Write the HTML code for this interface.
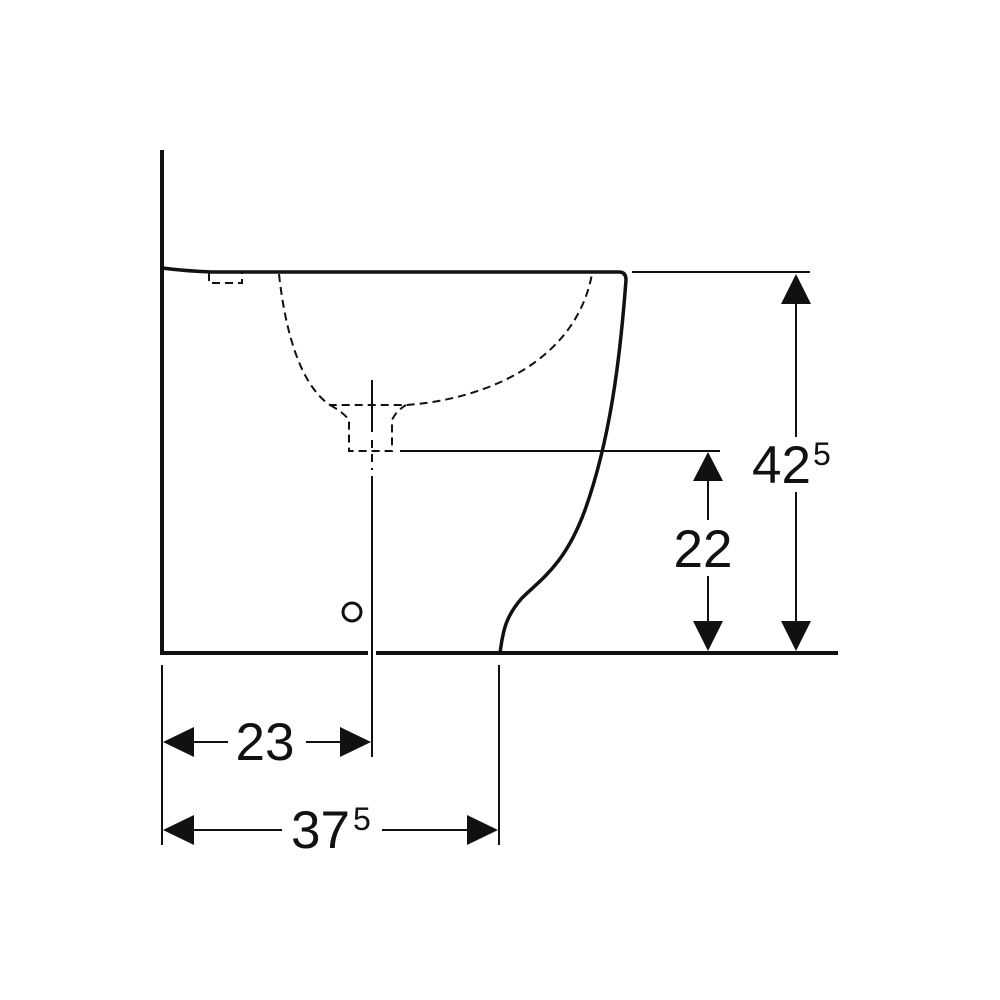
<!DOCTYPE html>
<html><head><style>html,body{margin:0;padding:0;background:#fff}svg{display:block}</style></head><body>
<svg width="1000" height="1000" viewBox="0 0 1000 1000" xmlns="http://www.w3.org/2000/svg">
<g fill="none" stroke="#111" stroke-linecap="butt">
<!-- wall -->
<line x1="162" y1="150" x2="162" y2="655" stroke-width="4"/>
<!-- floor -->
<line x1="160" y1="653" x2="368" y2="653" stroke-width="4"/>
<line x1="376" y1="653" x2="838" y2="653" stroke-width="4"/>
<!-- body outline -->
<path d="M162 268 Q185 271 212 272 L619 272 Q626 272 626 280 C620 360 610 440 585 510 C565 565 540 580 522 598 C506 616 503 630 500 653" stroke-width="3.5"/>
<!-- dashed bowl -->
<g stroke-width="2" stroke-dasharray="8,5">
<path d="M209 273 L209 283 L242 283 L242 273"/>
<path d="M279 274 C285 330 300 385 330 405 L406 405 C480 400 575 365 592 274"/>
<path d="M330 405 Q343 412 349 420 L349 451 L392 451 L392 420 Q396 411 406 405"/>
</g>
<!-- center line -->
<line x1="372" y1="380" x2="372" y2="432" stroke-width="2"/>
<line x1="372" y1="440" x2="372" y2="470" stroke-width="2" stroke-dasharray="8,6"/>
<line x1="372" y1="476" x2="372" y2="757" stroke-width="2"/>
<!-- horizontal refs -->
<line x1="400" y1="451" x2="720" y2="451" stroke-width="2"/>
<line x1="632" y1="272" x2="810" y2="272" stroke-width="2"/>
<!-- extension lines -->
<line x1="162" y1="665" x2="162" y2="845" stroke-width="2"/>
<line x1="499" y1="665" x2="499" y2="845" stroke-width="2"/>
<!-- dim lines -->
<line x1="796" y1="300" x2="796" y2="437" stroke-width="2"/>
<line x1="796" y1="492" x2="796" y2="625" stroke-width="2"/>
<line x1="708" y1="478" x2="708" y2="520" stroke-width="2"/>
<line x1="708" y1="576" x2="708" y2="625" stroke-width="2"/>
<line x1="192" y1="742" x2="228" y2="742" stroke-width="2"/>
<line x1="306" y1="742" x2="342" y2="742" stroke-width="2"/>
<line x1="192" y1="830" x2="282" y2="830" stroke-width="2"/>
<line x1="382" y1="830" x2="470" y2="830" stroke-width="2"/>
<circle cx="352" cy="612" r="9" stroke-width="3"/>
</g>
<g fill="#111">
<polygon points="796,274 781,304 811,304"/>
<polygon points="796,651 781,621 811,621"/>
<polygon points="708,452 693,481 723,481"/>
<polygon points="708,651 693,621 723,621"/>
<polygon points="163,742 194,727 194,757"/>
<polygon points="371,742 340,727 340,757"/>
<polygon points="163,830 194,815 194,845"/>
<polygon points="498,830 467,815 467,845"/>
</g>
<g font-family="Liberation Sans, sans-serif" fill="#111">
<text x="752" y="483" font-size="53">42</text>
<text x="813" y="465" font-size="32">5</text>
<text x="703" y="567" font-size="53" text-anchor="middle">22</text>
<text x="265" y="760" font-size="53" text-anchor="middle">23</text>
<text x="291" y="848" font-size="53">37</text>
<text x="353" y="830" font-size="32">5</text>
</g>
</svg>
</body></html>
